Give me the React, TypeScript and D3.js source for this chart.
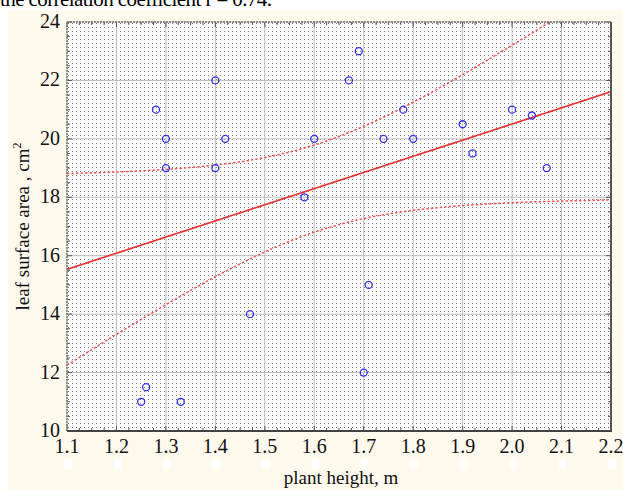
import React from 'react';
import * as d3 from 'd3';

// plant height (m) and leaf surface area (cm²)
const heights = [1.25, 1.26, 1.33, 1.28, 1.3, 1.3, 1.4, 1.4, 1.42, 1.47, 1.58, 1.6, 1.67, 1.69, 1.71, 1.7, 1.74, 1.78, 1.8, 1.9, 1.92, 2.0, 2.04, 2.07];
const areas = [11, 11.5, 11, 21, 20, 19, 22, 19, 20, 14, 18, 20, 22, 23, 15, 12, 20, 21, 20, 20.5, 19.5, 21, 20.8, 19];

const xTicks = [1.1, 1.2, 1.3, 1.4, 1.5, 1.6, 1.7, 1.8, 1.9, 2.0, 2.1, 2.2];
const xTickLabels = ['1.1', '1.2', '1.3', '1.4', '1.5', '1.6', '1.7', '1.8', '1.9', '2.0', '2.1', '2.2'];
const yTicks = [10, 12, 14, 16, 18, 20, 22, 24];

const title = 'the correlation coefficient r = 0.74.';
const xTitle = 'plant height, m';
const yTitle = 'leaf surface area , cm';
const tCrit = 2.074; // t(0.975, 22)

export default function App() {
  const W = 623, H = 490;
  const L = 67, R = 611, T = 22, B = 431;
  const x = d3.scaleLinear().domain([1.1, 2.2]).range([L, R]);
  const y = d3.scaleLinear().domain([10, 24]).range([B, T]);

  const n = heights.length;
  const mx = d3.mean(heights) as number;
  const my = d3.mean(areas) as number;
  let sxx = 0, sxy = 0, syy = 0;
  heights.forEach((h, i) => {
    sxx += (h - mx) ** 2;
    sxy += (h - mx) * (areas[i] - my);
    syy += (areas[i] - my) ** 2;
  });
  const slope = sxy / sxx;
  const icpt = my - slope * mx;
  const s = Math.sqrt((syy - slope * sxy) / (n - 2));
  const fit = (v: number) => icpt + slope * v;
  const hw = (v: number) => tCrit * s * Math.sqrt(1 / n + (v - mx) ** 2 / sxx);
  const xs = d3.range(0, 221).map(i => 1.1 + i * 0.005);
  const lineGen = (f: (v: number) => number) =>
    d3.line<number>().x(d => x(d)).y(d => y(f(d)))(xs) as string;

  const xMinor = d3.range(0, 45).map(i => 1.1 + i * 0.025);
  const yMinor = d3.range(0, 29).map(i => 10 + i * 0.5);

  const serif = "'Liberation Serif', 'Times New Roman', serif";

  return (
    <div style={{ position: 'absolute', left: 0, top: 0 }}>
      <svg width={W} height={H} style={{ display: 'block' }}>
        <defs>
          <pattern id="dots" width={4} height={4} patternUnits="userSpaceOnUse" x={L} y={T}>
            <rect x={1} y={1} width={1} height={1} fill="#7a7a7a" />
          </pattern>
          <clipPath id="plotclip">
            <rect x={L} y={T} width={R - L} height={B - T} />
          </clipPath>
        </defs>
        <rect x={0} y={0} width={W} height={H} fill="#ffffff" />
        <rect x={8} y={10} width={W - 8} height={H - 10} fill="#fff9ee" />
        <text x={0} y={6} fontFamily={serif} fontSize={21} textLength={272} fill="#000">{title}</text>

        {/* plot area */}
        <rect x={L} y={T} width={R - L} height={B - T} fill="#ffffff" />
        <rect x={L} y={T} width={R - L} height={B - T} fill="url(#dots)" />
        {xTicks.map(t => (
          <line key={'gx' + t} x1={x(t)} x2={x(t)} y1={T} y2={B} stroke="#bdbdbd" strokeWidth={1} />
        ))}
        {yTicks.map(t => (
          <line key={'gy' + t} x1={L} x2={R} y1={y(t)} y2={y(t)} stroke="#bdbdbd" strokeWidth={1} />
        ))}

        <g clipPath="url(#plotclip)">
          <path d={lineGen(v => fit(v) + hw(v))} fill="none" stroke="#f05555" strokeWidth={1.5} strokeDasharray="2.5,2" />
          <path d={lineGen(v => fit(v) - hw(v))} fill="none" stroke="#f05555" strokeWidth={1.5} strokeDasharray="2.5,2" />
          <path d={lineGen(fit)} fill="none" stroke="#e53535" strokeWidth={1.7} />
        </g>

        {heights.map((h, i) => (
          <circle key={'p' + i} cx={x(h)} cy={y(areas[i])} r={3.5} fill="none" stroke="#2f2ff0" strokeWidth={1.3} />
        ))}

        {/* ticks */}
        {xMinor.map((t, i) => {
          const len = i % 4 === 0 ? 5 : 3;
          return (
            <g key={'tx' + i}>
              <line x1={x(t)} x2={x(t)} y1={B} y2={B - len} stroke="#555" strokeWidth={1} />
              <line x1={x(t)} x2={x(t)} y1={T} y2={T + len} stroke="#555" strokeWidth={1} />
            </g>
          );
        })}
        {yMinor.map((t, i) => {
          const len = i % 4 === 0 ? 5 : 3;
          return (
            <g key={'ty' + i}>
              <line x1={L} x2={L + len} y1={y(t)} y2={y(t)} stroke="#555" strokeWidth={1} />
              <line x1={R} x2={R - len} y1={y(t)} y2={y(t)} stroke="#555" strokeWidth={1} />
            </g>
          );
        })}

        {/* frame */}
        <line x1={L} x2={R} y1={T} y2={T} stroke="#777" strokeWidth={1.5} strokeDasharray="2,1" />
        <line x1={L} x2={L} y1={T} y2={B} stroke="#777" strokeWidth={1.5} strokeDasharray="2,1" />
        <line x1={R} x2={R} y1={T} y2={B + 1} stroke="#555" strokeWidth={2} />
        <line x1={L} x2={R + 1} y1={B} y2={B} stroke="#444" strokeWidth={2} />

        {/* tick labels */}
        {yTicks.map(t => (
          <text key={'ly' + t} x={L - 7} y={y(t) + 6} textAnchor="end" fontFamily={serif} fontSize={20} fill="#111">{t}</text>
        ))}
        {xTicks.map((t, i) => (
          <g key={'lx' + t}>
            <rect x={x(t) - 3} y={459} width={8} height={10} rx={2} fill="#ffffff" />
            <text x={x(t)} y={453} textAnchor="middle" fontFamily={serif} fontSize={20} fill="#111">{xTickLabels[i]}</text>
          </g>
        ))}

        {/* axis titles */}
        <text x={(L + R) / 2 + 2} y={484} textAnchor="middle" fontFamily={serif} fontSize={19} fill="#111">{xTitle}</text>
        <text transform={`translate(29, ${(T + B) / 2}) rotate(-90)`} textAnchor="middle" fontFamily={serif} fontSize={19} fill="#111">
          {yTitle}<tspan dy={-8} fontSize={12}>2</tspan>
        </text>
      </svg>
    </div>
  );
}
